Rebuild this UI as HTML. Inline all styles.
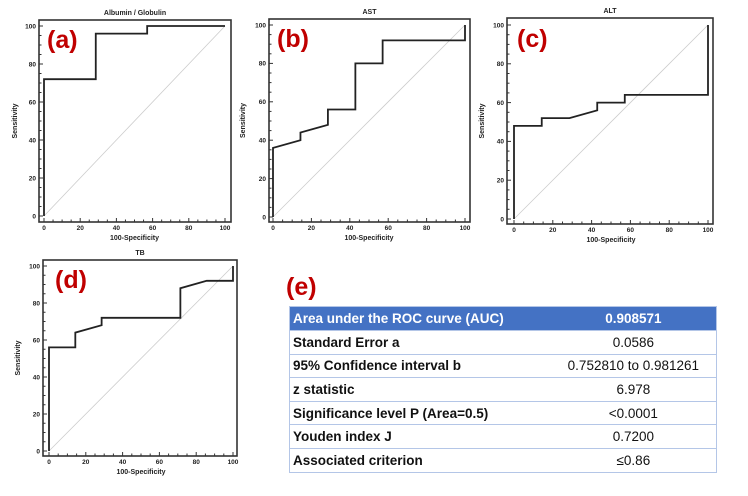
<!DOCTYPE html>
<html><head><meta charset="utf-8"><style>
body{margin:0;background:#fff;width:748px;height:496px;overflow:hidden;position:relative;font-family:"Liberation Sans",sans-serif}
svg{position:absolute;left:0;top:0}
#tbl{position:absolute;left:289px;top:306px;width:428px;border-collapse:collapse;font-size:13.5px;color:#111}
#tbl td{height:22.6px;padding:0 3px;border-bottom:1.5px solid #b4c6e7;white-space:nowrap}
#tbl td.v{text-align:center;font-weight:normal}
#tbl td.k{font-weight:bold}
#tbl tr:first-child td{background:#4472c4;color:#fff;font-weight:bold;height:23px}
#tbl{border:1.5px solid #b4c6e7}
.lab{position:absolute;color:#c00000;font-weight:bold;font-size:25px}
</style></head><body>
<svg id="svg" width="748" height="496"></svg>
<div class="lab" style="left:47px;top:26px">(a)</div>
<div class="lab" style="left:277px;top:25px">(b)</div>
<div class="lab" style="left:517px;top:25px">(c)</div>
<div class="lab" style="left:55px;top:266px">(d)</div>
<div class="lab" style="left:286px;top:273px">(e)</div>
<table id="tbl">
<tr><td class="k">Area under the ROC curve (AUC)</td><td class="v" style="font-weight:bold">0.908571</td></tr>
<tr><td class="k">Standard Error a</td><td class="v">0.0586</td></tr>
<tr><td class="k">95% Confidence interval b</td><td class="v">0.752810 to 0.981261</td></tr>
<tr><td class="k">z statistic</td><td class="v">6.978</td></tr>
<tr><td class="k">Significance level P (Area=0.5)</td><td class="v">&lt;0.0001</td></tr>
<tr><td class="k">Youden index J</td><td class="v">0.7200</td></tr>
<tr><td class="k">Associated criterion</td><td class="v">≤0.86</td></tr>
</table>
<script>
const ticks=[0,20,40,60,80,100];
const aX=[0,0,28.6,28.6,57,57,100];
const aY=[0,72,72,96,96,100,100];
const bX=[0,0,14.3,14.3,28.6,28.6,42.9,42.9,57.1,57.1,100,100];
const bY=[0,36,40,44,48,56,56,80,80,92,92,100];
const cX=[0,0,14.3,14.3,28.6,42.9,42.9,57.1,57.1,100,100];
const cY=[0,48,48,52,52,56,60,60,64,64,100];
const dX=[0,0,14.3,14.3,28.6,28.6,71.4,71.4,85.7,100,100];
const dY=[0,56,56,64,68,72,72,88,92,92,100];
const titles=["Albumin / Globulin","AST","ALT","TB"];
const panels=[
 {n:"a",X:aX,Y:aY,fl:39,fr:231,ft:20,fb:222,x0:44,x1:225,y0:216,y1:26,yl:17},
 {n:"b",X:bX,Y:bY,fl:269,fr:470,ft:19,fb:222,x0:273,x1:465,y0:217,y1:25,yl:245},
 {n:"c",X:cX,Y:cY,fl:507,fr:713,ft:18,fb:224,x0:514,x1:708,y0:219,y1:25,yl:484},
 {n:"d",X:dX,Y:dY,fl:43,fr:237,ft:260,fb:456,x0:49,x1:233,y0:451,y1:266,yl:20}];
const svg=document.getElementById('svg');const NS="http://www.w3.org/2000/svg";
function mk(t,a,p){const e=document.createElementNS(NS,t);for(const k in a)e.setAttribute(k,a[k]);(p||svg).appendChild(e);return e;}
panels.forEach((p,i)=>{
 const g=mk('g',{});
 
 
 const sx=v=>p.x0+(p.x1-p.x0)*v/100, sy=v=>p.y0+(p.y1-p.y0)*v/100;
 const fr=mk('rect',{x:p.fl,y:p.ft,width:p.fr-p.fl,height:p.fb-p.ft,fill:'none',stroke:'#333','stroke-width':1.6},g);
 
 
 const dg=mk('line',{x1:sx(0),y1:sy(0),x2:sx(100),y2:sy(100),stroke:'#ccc','stroke-width':0.8},g);
 
 
 for(let v=0;v<=100;v+=5){const maj=v%20==0;
  mk('line',{x1:sx(v),x2:sx(v),y1:p.fb,y2:p.fb-(maj?4:2.5),stroke:'#333','stroke-width':1},g);
  mk('line',{y1:sy(v),y2:sy(v),x1:p.fl,x2:p.fl+(maj?4:2.5),stroke:'#333','stroke-width':1},g);}
 ticks.forEach(v=>{
  const t=mk('text',{x:sx(v),y:p.fb+8,'font-size':6.5,'text-anchor':'middle',fill:'#222','font-weight':'bold'},g);t.textContent=v;
  
  
  const u=mk('text',{x:p.fl-3,y:sy(v)+2.3,'font-size':6.5,'text-anchor':'end',fill:'#222','font-weight':'bold'},g);u.textContent=v;
  
  });
 const xt=mk('text',{x:(p.x0+p.x1)/2,y:p.fb+18,'font-size':7,'text-anchor':'middle','font-weight':'bold',fill:'#222'},g);xt.textContent="100-Specificity";
 
 
 const tt=mk('text',{x:(p.fl+p.fr)/2,y:p.ft-5,'font-size':7,'text-anchor':'middle','font-weight':'bold',fill:'#222'},g);tt.textContent=titles[i];
 
 
 const yc=(p.ft+p.fb)/2;
 const yt=mk('text',{x:p.yl,y:yc,'font-size':7,'text-anchor':'middle','font-weight':'bold',fill:'#222',transform:`rotate(-90 ${p.yl} ${yc})`},g);yt.textContent="Sensitivity";
 
 
 const pts=p.X.map((x,k)=>sx(x)+','+sy(p.Y[k])).join(' ');
 const c=mk('polyline',{points:pts,fill:'none',stroke:'#222','stroke-width':1.8},g);
 
 
});
</script>
</body></html>
